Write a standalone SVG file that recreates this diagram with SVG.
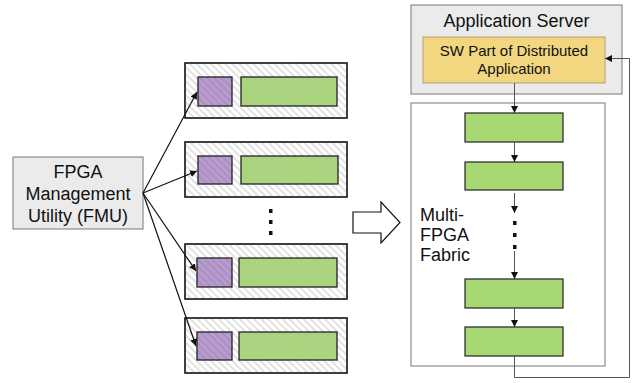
<svg xmlns="http://www.w3.org/2000/svg" width="638" height="383" viewBox="0 0 638 383">
<style>
  text { font-family: "Liberation Sans", Arial, sans-serif; fill: #111; }
  .card { fill: #fff; stroke: #222; stroke-width: 1.3; }
  .hatch { fill: url(#hatch); stroke: none; }
  .pu { fill: #b08fcc; stroke: none; }
  .gr { fill: #a8d873; stroke: none; }
  .ol { fill: none; stroke: #222; stroke-width: 1.3; }
  .gr2 { fill: #a8d873; stroke: #222; stroke-width: 1.2; }
  .conn { stroke: #111; stroke-width: 1.2; fill: none; }
  .conng { stroke: #555; stroke-width: 1; fill: none; }
  .dot { fill: #111; }
</style>
<defs>
  <pattern id="hatch" patternUnits="userSpaceOnUse" width="5" height="5" patternTransform="rotate(45)">
    <line x1="0" y1="1" x2="5" y2="1" stroke="#bdbdbd" stroke-opacity="0.55" stroke-width="1.6"/>
  </pattern>
  <marker id="ah" viewBox="0 0 10 10" refX="10" refY="5" markerWidth="7" markerHeight="7" orient="auto" markerUnits="userSpaceOnUse">
    <path d="M0,0 L10,5 L0,10 z" fill="#111"/>
  </marker>
</defs>

<g id="fmu">
  <rect x="13" y="157" width="130" height="72" fill="#ebebeb" stroke="#777" stroke-width="1"/>
  <text x="78" y="178" font-size="18" text-anchor="middle">FPGA</text>
  <text x="78" y="200" font-size="18" text-anchor="middle">Management</text>
  <text x="78" y="222" font-size="18" text-anchor="middle">Utility (FMU)</text>
</g>

<g id="fpga1">
  <rect class="card" x="185" y="63" width="162" height="55"/>
  <rect class="pu" x="198" y="77" width="34" height="29"/>
  <rect class="gr" x="241" y="77" width="96" height="29"/>
  <rect class="hatch" x="185" y="63" width="162" height="55"/>
  <rect class="ol" x="185" y="63" width="162" height="55"/>
  <rect class="ol" x="198" y="77" width="34" height="29"/>
  <rect class="ol" x="241" y="77" width="96" height="29"/>
</g>
<g id="fpga2">
  <rect class="card" x="185" y="142" width="162" height="55"/>
  <rect class="pu" x="198" y="156" width="34" height="28"/>
  <rect class="gr" x="241" y="156" width="97" height="28"/>
  <rect class="hatch" x="185" y="142" width="162" height="55"/>
  <rect class="ol" x="185" y="142" width="162" height="55"/>
  <rect class="ol" x="198" y="156" width="34" height="28"/>
  <rect class="ol" x="241" y="156" width="97" height="28"/>
</g>
<g id="fpga3">
  <rect class="card" x="185" y="244" width="162" height="55"/>
  <rect class="pu" x="197" y="258" width="35" height="29"/>
  <rect class="gr" x="239" y="258" width="98" height="29"/>
  <rect class="hatch" x="185" y="244" width="162" height="55"/>
  <rect class="ol" x="185" y="244" width="162" height="55"/>
  <rect class="ol" x="197" y="258" width="35" height="29"/>
  <rect class="ol" x="239" y="258" width="98" height="29"/>
</g>
<g id="fpga4">
  <rect class="card" x="185" y="318" width="162" height="55"/>
  <rect class="pu" x="197" y="332" width="35" height="28"/>
  <rect class="gr" x="239" y="332" width="98" height="28"/>
  <rect class="hatch" x="185" y="318" width="162" height="55"/>
  <rect class="ol" x="185" y="318" width="162" height="55"/>
  <rect class="ol" x="197" y="332" width="35" height="28"/>
  <rect class="ol" x="239" y="332" width="98" height="28"/>
</g>

<g id="dots-left">
  <rect class="dot" x="269" y="209" width="3.5" height="4"/>
  <rect class="dot" x="269" y="220" width="3.5" height="4"/>
  <rect class="dot" x="269" y="231" width="3.5" height="4"/>
</g>

<g id="big-arrow">
  <path d="M353,212 L381,212 L381,202 L400,222.5 L381,243 L381,233 L353,233 Z" fill="#fff" stroke="#111" stroke-width="1.2"/>
</g>

<g id="app-server">
  <rect x="411" y="5" width="211" height="89" fill="#ebebeb" stroke="#777" stroke-width="1"/>
  <text x="516.5" y="27" font-size="18" text-anchor="middle">Application Server</text>
</g>
<g id="sw-part">
  <rect x="423" y="37" width="182" height="46" fill="#f2d680" stroke="#b5a070" stroke-width="1"/>
  <text x="514" y="56" font-size="15" text-anchor="middle">SW Part of Distributed</text>
  <text x="514" y="74" font-size="15" text-anchor="middle">Application</text>
</g>

<g id="fabric">
  <rect x="411" y="103" width="194" height="263" fill="#fff" stroke="#777" stroke-width="1"/>
  <text x="420" y="221" font-size="18">Multi-</text>
  <text x="420" y="241" font-size="18">FPGA</text>
  <text x="420" y="261" font-size="18">Fabric</text>
</g>
<g id="f1"><rect class="gr2" x="465" y="113" width="98" height="29"/></g>
<g id="f2"><rect class="gr2" x="465" y="162" width="98" height="28"/></g>
<g id="f3"><rect class="gr2" x="465" y="279" width="98" height="29"/></g>
<g id="f4"><rect class="gr2" x="465" y="327" width="98" height="29"/></g>

<g id="dots-right">
  <rect class="dot" x="513" y="221" width="3.5" height="4"/>
  <rect class="dot" x="513" y="233" width="3.5" height="4"/>
  <rect class="dot" x="513" y="245" width="3.5" height="4"/>
</g>

<g id="connectors">
  <line class="conn" x1="143" y1="193" x2="197" y2="92" marker-end="url(#ah)"/>
  <line class="conn" x1="143" y1="193" x2="197" y2="171" marker-end="url(#ah)"/>
  <line class="conn" x1="143" y1="193" x2="196" y2="271" marker-end="url(#ah)"/>
  <line class="conn" x1="143" y1="193" x2="196" y2="346" marker-end="url(#ah)"/>
  <line class="conng" x1="514.5" y1="83" x2="514.5" y2="113" marker-end="url(#ah)"/>
  <line class="conng" x1="514.5" y1="142" x2="514.5" y2="162" marker-end="url(#ah)"/>
  <line class="conng" x1="514.5" y1="193" x2="514.5" y2="213" marker-end="url(#ah)"/>
  <line class="conng" x1="514.5" y1="251" x2="514.5" y2="279" marker-end="url(#ah)"/>
  <line class="conng" x1="514.5" y1="308" x2="514.5" y2="327" marker-end="url(#ah)"/>
  <path class="conng" d="M514.5,356 L514.5,377.5 L629.5,377.5 L629.5,58.5 L605,58.5" marker-end="url(#ah)"/>
</g>
</svg>
